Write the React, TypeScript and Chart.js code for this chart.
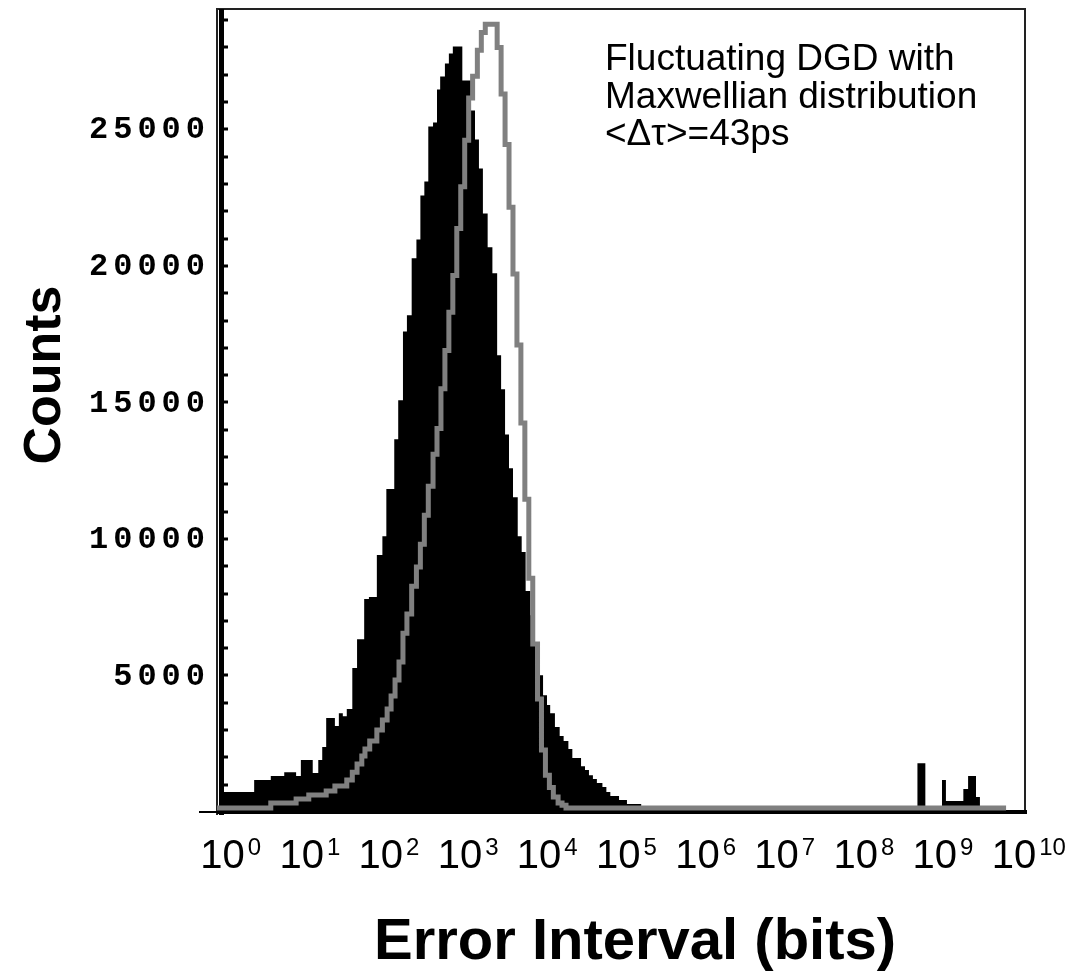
import React, { useEffect, useRef } from 'react';
import { Chart, registerables } from 'chart.js';

Chart.register(...registerables);

// log10(error interval) at the start of each bin, and its count (black filled histogram)
const blackBinStarts = [
  0.0, 0.4, 0.61, 0.78, 0.93, 0.99, 1.14, 1.21, 1.26, 1.31, 1.42, 1.47, 1.52, 1.57, 1.64, 1.7, 1.79, 1.85,
  1.95, 2.02, 2.07, 2.17, 2.22, 2.28, 2.33, 2.39, 2.45, 2.5, 2.55, 2.6, 2.66, 2.71, 2.75, 2.81, 2.86, 2.91,
  3.03, 3.14, 3.19, 3.24, 3.29, 3.35, 3.41, 3.47, 3.52, 3.57, 3.62, 3.67, 3.73, 3.78, 3.83, 3.89, 3.94, 4.0,
  4.05, 4.1, 4.14, 4.2, 4.26, 4.31, 4.37, 4.42, 4.53, 4.58, 4.63, 4.68, 4.73, 4.8, 4.85, 4.9, 5.01, 5.11, 5.29,
  8.78, 8.88, 9.09, 9.14, 9.36, 9.42, 9.52, 9.57,
];
const blackCounts = [
  730, 1170, 1320, 1460, 1320, 1900, 1430, 1900, 2380, 3440, 3150, 3620, 3510, 3770, 5270, 6330, 7800, 7870,
  9410, 10100, 11830, 13650, 15080, 17600, 18190, 20280, 20970, 22580, 23090, 25110, 25250, 26460, 26940, 27410, 27780, 28040,
  26790, 25690, 24630, 23570, 21920, 20680, 19730, 16730, 15480, 13830, 12590, 11530, 10100, 9520, 8090, 7210, 6110, 5010,
  4280, 3920, 3620, 3110, 2780, 2600, 2310, 1980, 1680, 1540, 1350, 1210, 1060, 920, 730, 590, 440, 290, 0,
  1790, 0, 1170, 400, 840, 1320, 550, 0,
];

// gray outlined histogram
const grayBinStarts = [
  -0.07, 0.61, 0.93, 1.09, 1.31, 1.42, 1.57, 1.64, 1.7, 1.76, 1.8, 1.86, 1.95, 2.02, 2.08, 2.13, 2.18, 2.23,
  2.28, 2.33, 2.39, 2.45, 2.5, 2.55, 2.6, 2.66, 2.71, 2.76, 2.81, 2.86, 2.91, 2.96, 3.01, 3.06, 3.11, 3.16,
  3.22, 3.27, 3.32, 3.47, 3.52, 3.57, 3.62, 3.67, 3.72, 3.77, 3.82, 3.87, 3.92, 3.98, 4.03, 4.08, 4.13, 4.18,
  4.24, 4.29, 4.34, 9.9,
];
const grayCounts = [
  150, 330, 480, 620, 770, 950, 1170, 1460, 1760, 2050, 2310, 2600, 3000, 3370, 3770, 4250, 4830, 5490,
  6550, 7250, 8270, 8970, 9810, 10870, 11930, 13100, 14050, 15500, 16900, 18300, 19650, 21370, 22900, 24600, 26150, 26950,
  27900, 28550, 28850, 28000, 26300, 24450, 22150, 19700, 17100, 14250, 11450, 8560, 6150, 4140, 2270, 1350, 900, 550,
  330, 250, 150, 150,
];

const yTickLabels = [5000, 10000, 15000, 20000, 25000];
const yMinorStep = 1000;
const xDecades = [0, 1, 2, 3, 4, 5, 6, 7, 8, 9, 10];
const xTitle = 'Error Interval (bits)';
const yTitle = 'Counts';
const annotationLines = ['Fluctuating DGD with', 'Maxwellian distribution', '<\u0394\u03C4>=43ps'];

const X_MIN = -0.0695;
const X_MAX = 10.139;
const Y_MAX = 29410;

const axesPlugin = {
  id: 'customAxes',
  beforeDatasetsDraw(chart: any) {
    const { ctx, chartArea: a, scales } = chart;
    const y = scales.y;
    ctx.save();
    // frame
    ctx.strokeStyle = '#222';
    ctx.lineWidth = 2;
    ctx.beginPath();
    ctx.moveTo(a.left, a.bottom + 3);
    ctx.lineTo(a.left, a.top);
    ctx.lineTo(a.right, a.top);
    ctx.lineTo(a.right, a.bottom);
    ctx.stroke();
    // y axis thick line
    ctx.fillStyle = '#000';
    ctx.fillRect(a.left + 2, a.top, 5, a.bottom - a.top + 3);
    // x axis line
    ctx.fillRect(a.left, a.bottom - 2, a.right - a.left + 2, 4);
    ctx.fillRect(a.left - 18, a.bottom - 1, 20, 2);
    // y ticks
    for (let v = yMinorStep; v < Y_MAX; v += yMinorStep) {
      const py = y.getPixelForValue(v);
      ctx.fillRect(a.left + 6, Math.round(py) - 1.5, 5, 3);
    }
    ctx.restore();
  },
  afterDraw(chart: any) {
    const { ctx, chartArea: a, scales } = chart;
    const x = scales.x;
    const y = scales.y;
    ctx.save();
    ctx.fillStyle = '#000';
    // y tick labels
    ctx.font = 'bold 32px "Liberation Mono", monospace';
    (ctx as any).letterSpacing = '5px';
    ctx.textAlign = 'right';
    ctx.textBaseline = 'middle';
    yTickLabels.forEach((v) => {
      ctx.fillText(String(v), a.left - 7, y.getPixelForValue(v) + 1);
    });
    (ctx as any).letterSpacing = '0px';
    // x tick labels 10^n
    ctx.textBaseline = 'alphabetic';
    xDecades.forEach((d) => {
      const px = x.getPixelForValue(d);
      ctx.font = '40px "Liberation Sans", Arial, sans-serif';
      ctx.textAlign = 'center';
      const w = ctx.measureText('10').width;
      ctx.fillText('10', px, 868);
      ctx.font = '24px "Liberation Sans", Arial, sans-serif';
      ctx.textAlign = 'left';
      ctx.fillText(String(d), px + w / 2 + 3, 855);
    });
    // x title
    ctx.font = 'bold 58px "Liberation Sans", Arial, sans-serif';
    ctx.textAlign = 'center';
    ctx.fillText(xTitle, 635, 959);
    // y title
    ctx.save();
    ctx.translate(60, 375);
    ctx.rotate(-Math.PI / 2);
    ctx.font = 'bold 52px "Liberation Sans", Arial, sans-serif';
    ctx.textAlign = 'center';
    ctx.fillText(yTitle, 0, 0);
    ctx.restore();
    // annotation
    ctx.font = '37px "Liberation Sans", Arial, sans-serif';
    ctx.textAlign = 'left';
    annotationLines.forEach((t, i) => {
      ctx.fillText(t, 605, 70 + i * 37.5);
    });
    ctx.restore();
  },
};

export default function App() {
  const ref = useRef<HTMLCanvasElement | null>(null);
  useEffect(() => {
    if (!ref.current) return;
    const blackData = blackBinStarts.map((v, i) => ({ x: v, y: blackCounts[i] }));
    const grayData = grayBinStarts.map((v, i) => ({ x: v, y: grayCounts[i] }));
    const chart = new Chart(ref.current, {
      type: 'line',
      data: {
        datasets: [
          {
            label: 'gray',
            data: grayData,
            stepped: 'before',
            fill: false,
            borderColor: '#808080',
            borderWidth: 5,
            borderJoinStyle: 'miter',
            pointRadius: 0,
            order: 0,
          },
          {
            label: 'black',
            data: blackData,
            stepped: 'before',
            fill: 'origin',
            backgroundColor: '#000',
            borderColor: '#000',
            borderWidth: 0,
            pointRadius: 0,
            order: 1,
          },
        ],
      },
      options: {
        responsive: false,
        animation: false,
        events: [],
        layout: { padding: { left: 217, right: 51, top: 9, bottom: 160 } },
        plugins: { legend: { display: false }, tooltip: { enabled: false } },
        scales: {
          x: { type: 'linear', min: X_MIN, max: X_MAX, display: false },
          y: { type: 'linear', min: 0, max: Y_MAX, display: false },
        },
      },
      plugins: [axesPlugin],
    } as any);
    return () => chart.destroy();
  }, []);
  return (
    <div style={{ position: 'fixed', left: 0, top: 0, width: 1076, height: 972, background: '#fff' }}>
      <canvas ref={ref} width={1076} height={972} style={{ display: 'block' }} />
    </div>
  );
}
